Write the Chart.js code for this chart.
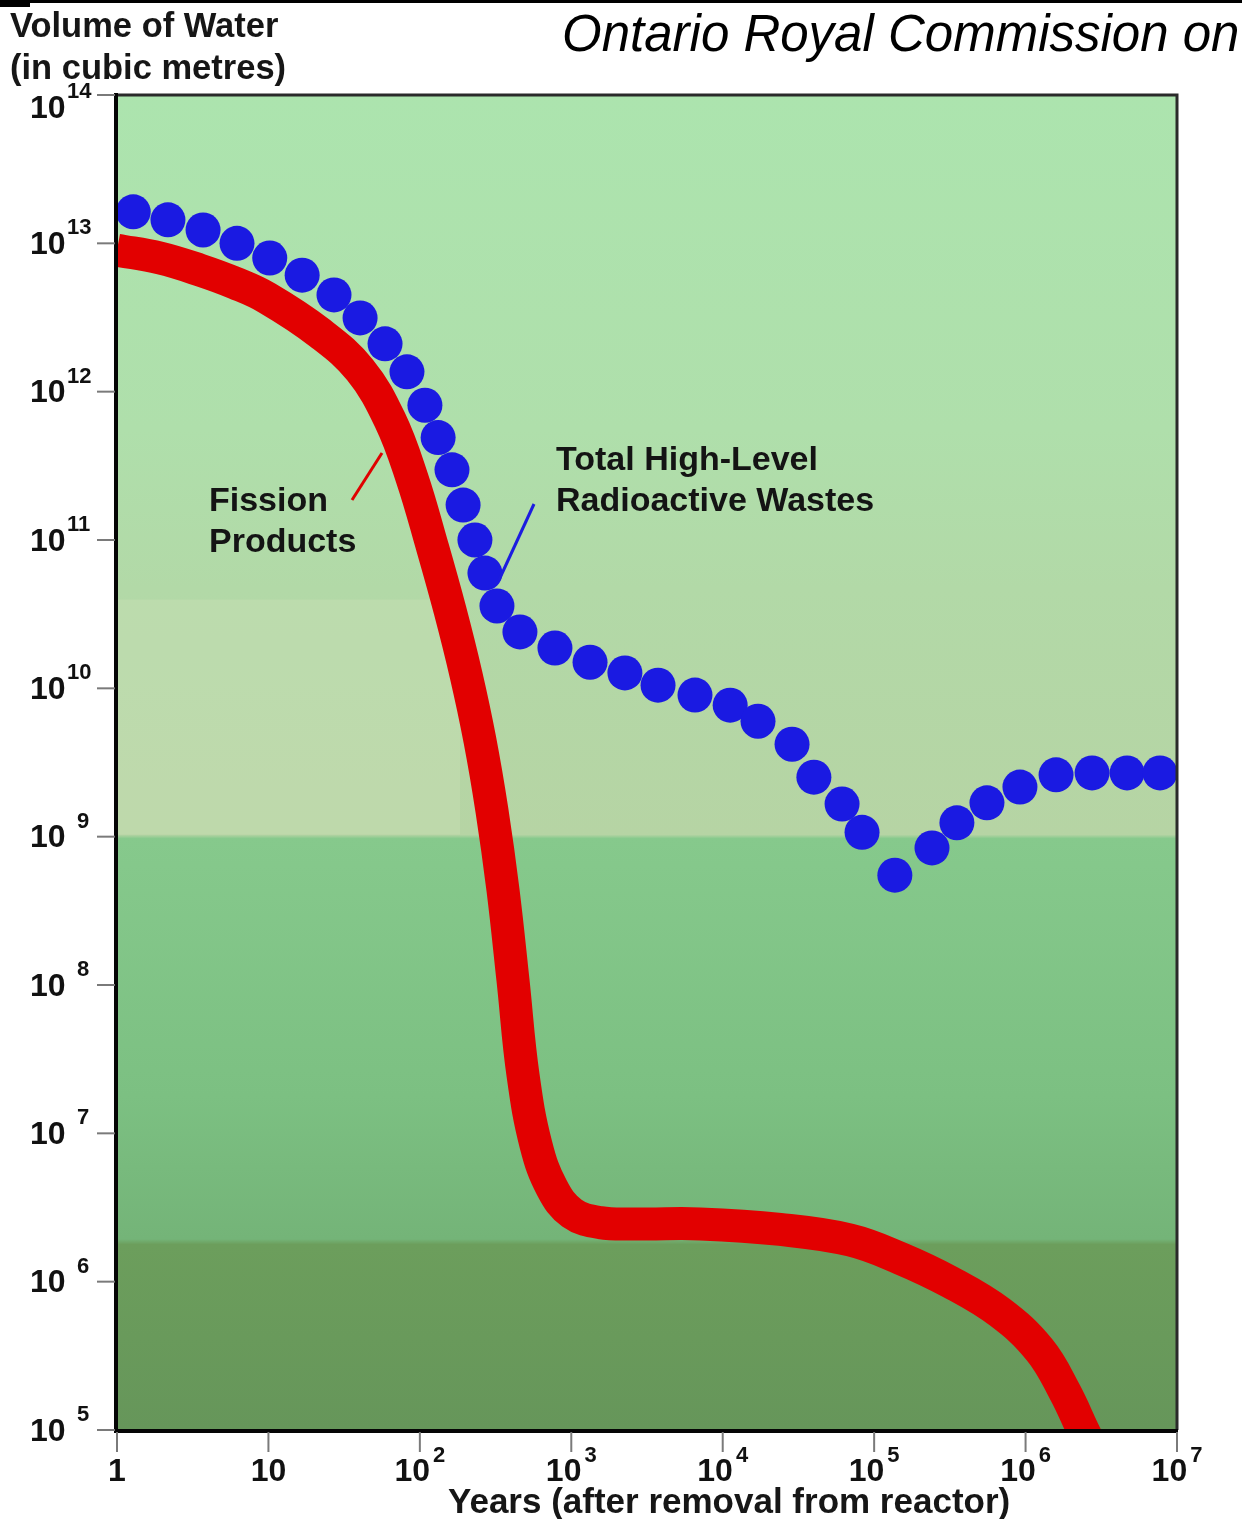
<!DOCTYPE html>
<html><head><meta charset="utf-8">
<script src="https://cdn.jsdelivr.net/npm/chart.js@4.4.0/dist/chart.umd.min.js"></script>
<style>
html,body{margin:0;padding:0;background:#fff;width:1242px;height:1519px;overflow:hidden;}
#wrap{position:relative;width:1242px;height:1519px;}
#c{position:absolute;left:0;top:0;}
.t{position:absolute;font-family:"Liberation Sans",Arial,sans-serif;white-space:nowrap;color:#161616;line-height:1;}
.b{font-weight:bold;}
</style></head><body>
<div id="wrap">
<canvas id="c" width="1242" height="1519"></canvas>
<div class="t" style="left:562px;top:8px;font-size:51px;font-style:italic;color:#000;">Ontario Royal Commission on</div>
<div class="t b" style="left:10px;top:8px;font-size:34.5px;">Volume of Water</div>
<div class="t b" style="left:10px;top:50px;font-size:34.5px;">(in cubic metres)</div>
<div class="t b" style="left:448px;top:1483px;font-size:35px;">Years (after removal from reactor)</div>
</div>
<script>
// ---- data (years after removal, volume of water in m^3) ----
const fissionYears  = [1, 1.92, 3.53, 6.01, 9.8, 21.9, 40.3, 63.5, 88.7, 120, 158, 202, 249, 299, 354, 412, 480, 585, 746, 1010, 1550, 2840, 7080, 23900, 69300, 148000, 317000, 678000, 1240000, 1820000, 2390000, 2870000];
const fissionVolume = [9.0e12, 7.96e12, 6.6e12, 5.4e12, 4.28e12, 2.48e12, 1.4e12, 6.44e11, 2.62e11, 9.25e10, 3.37e10, 1.23e10, 4.49e9, 1.51e9, 4.37e8, 1.08e8, 2.47e7, 8.34e6, 4.28e6, 2.9e6, 2.5e6, 2.45e6, 2.45e6, 2.25e6, 1.91e6, 1.44e6, 9.95e5, 6.2e5, 3.46e5, 1.8e5, 1.0e5, 6.8e4];

const totalYears  = [1.28, 2.17, 3.70, 6.2, 10.2, 16.7, 27.1, 40.3, 58.9, 82.2, 108, 132, 163, 193, 231, 269, 323, 458, 780, 1330, 2260, 3740, 6560, 11200, 17100, 28700, 40000, 61400, 83200, 137000, 241000, 352000, 556000, 918000, 1590000, 2750000, 4680000, 7720000];
const totalVolume = [1.63e13, 1.44e13, 1.23e13, 1.0e13, 7.96e12, 6.1e12, 4.49e12, 3.14e12, 2.1e12, 1.36e12, 8.1e11, 4.9e11, 2.97e11, 1.72e11, 1.0e11, 5.98e10, 3.59e10, 2.4e10, 1.87e10, 1.5e10, 1.27e10, 1.05e10, 9.0e9, 7.7e9, 6.0e9, 4.2e9, 2.52e9, 1.66e9, 1.07e9, 5.5e8, 8.4e8, 1.24e9, 1.69e9, 2.16e9, 2.61e9, 2.69e9, 2.69e9, 2.69e9];

const xTickExponents = [0, 1, 2, 3, 4, 5, 6, 7];
const yTickExponents = [5, 6, 7, 8, 9, 10, 11, 12, 13, 14];

const FONT = '"Liberation Sans", Arial, sans-serif';

const decor = {
  id: 'decor',
  beforeDraw(chart) {
    const ctx = chart.ctx, a = chart.chartArea;
    ctx.save();
    ctx.fillStyle = '#000';
    ctx.fillRect(0, 0, 1242, 3);
    ctx.fillRect(0, 0, 30, 7);
    const h = a.bottom - a.top;
    const g = ctx.createLinearGradient(0, a.top, 0, a.bottom);
    g.addColorStop(0, '#ace4ae');
    g.addColorStop(0.25, '#afdfab');
    g.addColorStop(0.37, '#b2d9a7');
    g.addColorStop(0.554, '#b6d4a4');
    g.addColorStop(0.557, '#86c98c');
    g.addColorStop(0.75, '#7cc082');
    g.addColorStop(0.857, '#74b478');
    g.addColorStop(0.861, '#6c9e5c');
    g.addColorStop(1, '#66965a');
    ctx.fillStyle = g;
    ctx.fillRect(a.left, a.top, a.right - a.left, h);
    ctx.fillStyle = 'rgba(205,225,185,0.35)';
    ctx.fillRect(a.left, a.top + h * 0.378, 460 - a.left, h * 0.176);
    ctx.restore();
  },
  afterDraw(chart) {
    const ctx = chart.ctx, a = chart.chartArea;
    const xs = chart.scales.x, ys = chart.scales.y;
    ctx.save();
    ctx.strokeStyle = '#2a2a2a';
    ctx.lineWidth = 3;
    ctx.beginPath();
    ctx.moveTo(a.left, a.top); ctx.lineTo(a.right, a.top); ctx.lineTo(a.right, a.bottom);
    ctx.stroke();
    ctx.strokeStyle = '#050505';
    ctx.lineWidth = 4;
    ctx.beginPath();
    ctx.moveTo(a.left - 1, a.top - 2); ctx.lineTo(a.left - 1, a.bottom + 1); ctx.lineTo(a.right + 1, a.bottom + 1);
    ctx.stroke();

    ctx.fillStyle = '#111';
    yTickExponents.forEach(e => {
      const y = ys.getPixelForValue(Math.pow(10, e));
      ctx.strokeStyle = '#7a7a7a'; ctx.lineWidth = 2;
      ctx.beginPath(); ctx.moveTo(a.left - 20, y); ctx.lineTo(a.left - 2, y); ctx.stroke();
      const yy = Math.max(y, a.top + 12);
      ctx.font = 'bold 32px ' + FONT;
      ctx.textAlign = 'left'; ctx.textBaseline = 'middle';
      ctx.fillText('10', 30, yy + 2);
      ctx.font = 'bold 22px ' + FONT;
      const s = String(e);
      ctx.fillText(s, s.length > 1 ? 67 : 77, yy - 15);
    });

    xTickExponents.forEach(e => {
      const x = xs.getPixelForValue(Math.pow(10, e));
      ctx.strokeStyle = '#7a7a7a'; ctx.lineWidth = 2;
      ctx.beginPath(); ctx.moveTo(x, a.bottom + 2); ctx.lineTo(x, a.bottom + 22); ctx.stroke();
      ctx.textBaseline = 'middle';
      ctx.font = 'bold 32px ' + FONT;
      if (e <= 1) {
        ctx.textAlign = 'center';
        ctx.fillText(e === 0 ? '1' : '10', x, 1472);
      } else {
        const wb = ctx.measureText('10').width;
        ctx.font = 'bold 22px ' + FONT;
        const ws = ctx.measureText(String(e)).width;
        const left = x - (wb + 3 + ws) / 2;
        ctx.textAlign = 'left';
        ctx.font = 'bold 32px ' + FONT;
        ctx.fillText('10', left, 1472);
        ctx.font = 'bold 22px ' + FONT;
        ctx.fillText(String(e), left + wb + 3, 1456);
      }
    });

    ctx.font = 'bold 34px ' + FONT;
    ctx.textAlign = 'left'; ctx.textBaseline = 'middle';
    ctx.fillStyle = '#141414';
    ctx.fillText('Total High-Level', 556, 461);
    ctx.fillText('Radioactive Wastes', 556, 502);
    ctx.fillText('Fission', 209, 502);
    ctx.fillText('Products', 209, 543);
    ctx.lineWidth = 3;
    ctx.strokeStyle = '#e00000';
    ctx.beginPath(); ctx.moveTo(352, 500); ctx.lineTo(382, 453); ctx.stroke();
    ctx.strokeStyle = '#1c1ce0';
    ctx.beginPath(); ctx.moveTo(499, 580); ctx.lineTo(534, 504); ctx.stroke();
    ctx.restore();
  }
};

new Chart(document.getElementById('c'), {
  type: 'scatter',
  data: {
    datasets: [
      {
        label: 'Total High-Level Radioactive Wastes',
        data: totalYears.map((x, i) => ({ x, y: totalVolume[i] })),
        pointRadius: 17.5,
        pointHoverRadius: 17.5,
        backgroundColor: '#1a1ae2',
        borderWidth: 0,
        showLine: false,
        clip: 0,
        order: 1
      },
      {
        type: 'line',
        label: 'Fission Products',
        data: fissionYears.map((x, i) => ({ x, y: fissionVolume[i] })),
        borderColor: '#e20000',
        borderWidth: 33,
        borderCapStyle: 'butt',
        borderJoinStyle: 'round',
        pointRadius: 0,
        tension: 0.4,
        fill: false,
        clip: 0,
        order: 2
      }
    ]
  },
  options: {
    responsive: false,
    animation: false,
    devicePixelRatio: 1,
    layout: { padding: { left: 117, right: 65, top: 95, bottom: 89 } },
    plugins: { legend: { display: false }, tooltip: { enabled: false }, title: { display: false } },
    scales: {
      x: { type: 'logarithmic', min: 1, max: 1e7, display: false },
      y: { type: 'logarithmic', min: 1e5, max: 1e14, display: false }
    }
  },
  plugins: [decor]
});
</script>
</body></html>
